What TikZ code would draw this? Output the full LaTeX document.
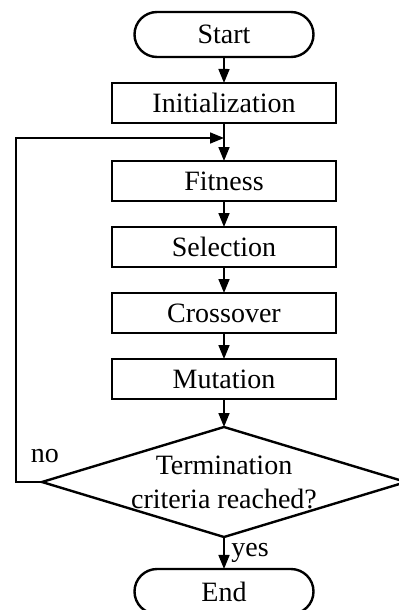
\documentclass[tikz,border=0pt]{standalone}
\usepackage{fontspec}
\setmainfont{Liberation Serif}
\usepackage{tikz}
\usetikzlibrary{arrows.meta, positioning, shapes.geometric, shapes.misc}

\begin{document}
\begin{tikzpicture}[
  font=\fontsize{14}{17}\selectfont,
  proc/.style={draw, rectangle, minimum width=112pt, minimum height=20pt,
               inner sep=0pt, outer sep=0pt, line width=1.2pt},
  term/.style={draw, rounded rectangle, minimum width=89.5pt, minimum height=22.5pt,
               inner sep=0pt, outer sep=0pt, line width=1.2pt},
  decision/.style={draw, diamond, minimum width=182pt, minimum height=55pt,
                   inner sep=0pt, outer sep=0pt, line width=1.2pt},
  arr/.style={-{Triangle[length=7pt, width=5.5pt]}, line width=0.8pt}
]
\useasboundingbox (0,0) rectangle (199pt,-305pt);

\node[term] (start) at (112pt,-17.25pt) {Start};
\node[proc, below=13pt of start] (init) {Initialization};
\node[proc, below=19pt of init] (fit) {Fitness};
\node[proc, below=13pt of fit] (sel) {Selection};
\node[proc, below=13pt of sel] (cross) {Crossover};
\node[proc, below=13pt of cross] (mut) {Mutation};
\node[decision, below=14pt of mut] (check) {};
\node[align=center] (checktxt) at (check.center) {Termination\\criteria reached?};
\node[term, below=16pt of check] (end) {End};

\coordinate[below=7.5pt of init] (join);
\coordinate[left=13pt of check.west] (back);

\draw[arr] (start) -- (init);
\draw[arr] (init) -- (fit);
\draw[arr] (fit) -- (sel);
\draw[arr] (sel) -- (cross);
\draw[arr] (cross) -- (mut);
\draw[arr] (mut) -- (check);
\draw[arr] (check) -- node[right] (yes) {yes} (end);
\draw[arr] (check.west) -- (back) |- (join);

\node[above=6pt of check.west, xshift=1.5pt] (no) {no};
\end{tikzpicture}
\end{document}
